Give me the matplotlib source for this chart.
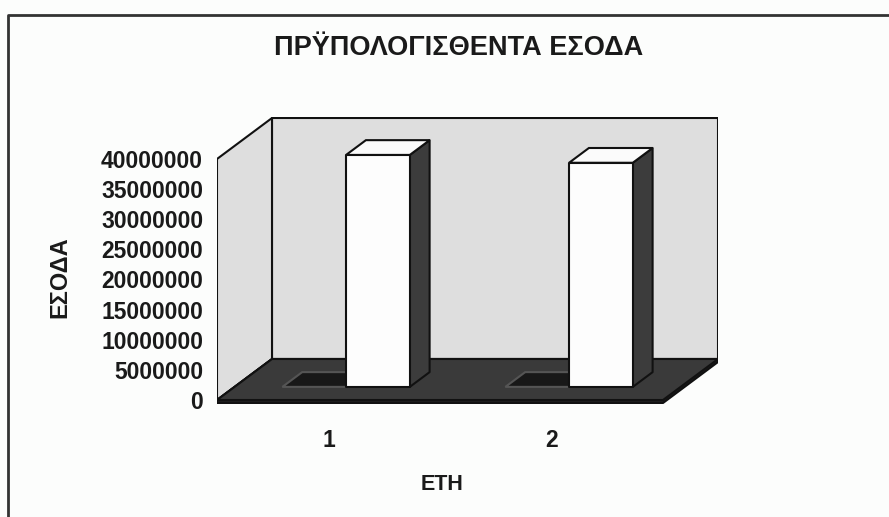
import matplotlib
matplotlib.use("Agg")
import matplotlib.pyplot as plt
from matplotlib.patches import Polygon
from matplotlib.lines import Line2D

# ---- data ----
categories = ["1", "2"]
series_small = [0, 0]                    # flat series drawn on the floor
series_income = [38500000, 37200000]     # white columns
y_ticks = [0, 5000000, 10000000, 15000000, 20000000,
           25000000, 30000000, 35000000, 40000000]
y_max = 40000000
title = "ΠΡΫΠΟΛΟΓΙΣΘΕΝΤΑ ΕΣΟΔΑ"
y_label = "ΕΣΟΔΑ"
x_label = "ΕΤΗ"

FONT = ["Liberation Sans", "DejaVu Sans"]
plt.rcParams["font.family"] = FONT

W, H = 889, 517
fig = plt.figure(figsize=(W / 100, H / 100), dpi=100)
fig.patch.set_facecolor("#fcfdfc")

# layout in pixels
front_left, front_right = 217, 663
zero_px = 400
top_front_px = 159
depth_dx_px, depth_dy_px = 55, 41
ax_left, ax_right = front_left, front_right + depth_dx_px
ax_top, ax_bottom = 117, 404

ncat = len(categories)
cat_px = (front_right - front_left) / ncat
S = (zero_px - top_front_px) / y_max          # px per value unit
DX = depth_dx_px / cat_px                     # depth offset in category units
DY = depth_dy_px / S                          # depth offset in value units

ax = fig.add_axes([ax_left / W, 1 - ax_bottom / H,
                   (ax_right - ax_left) / W, (ax_bottom - ax_top) / H])
ax.set_xlim(0, ncat + (ax_right - front_right) / cat_px)
ax.set_ylim(-(ax_bottom - zero_px) / S, (zero_px - ax_top) / S)
for s in ax.spines.values():
    s.set_visible(False)
ax.set_facecolor("none")

wall = "#dedede"
floor = "#3a3a3a"
ec = "#111111"
lw = 1.5

def poly(pts, fc, z, lw_=lw):
    ax.add_patch(Polygon(pts, closed=True, facecolor=fc, edgecolor=ec,
                         linewidth=lw_, zorder=z, joinstyle="round"))

# back wall, left wall, floor
poly([(DX, DY), (ncat + DX, DY), (ncat + DX, y_max + DY), (DX, y_max + DY)], wall, 1)
poly([(0, 0), (DX, DY), (DX, y_max + DY), (0, y_max)], wall, 1)
floor_th = 3 / S
poly([(0, -floor_th), (ncat, -floor_th), (ncat + DX, DY - floor_th),
      (ncat + DX, DY), (DX, DY), (0, 0)], "#1e1e1e", 2)
poly([(0, 0), (ncat, 0), (ncat + DX, DY), (DX, DY)], floor, 2)

# bars
gap = 1.5
bw = 1 / (2 + gap)
d0, d1 = 0.32, 0.68

def bar3d(x0, v, front, top, side, z, edge=ec):
    ox0, oy0 = d0 * DX, d0 * DY
    ox1, oy1 = d1 * DX, d1 * DY
    x1 = x0 + bw
    if v > 0:
        poly([(x1 + ox0, oy0), (x1 + ox1, oy1), (x1 + ox1, v + oy1), (x1 + ox0, v + oy0)], side, z)
        poly([(x0 + ox0, oy0), (x1 + ox0, oy0), (x1 + ox0, v + oy0), (x0 + ox0, v + oy0)], front, z)
    ax.add_patch(Polygon([(x0 + ox0, v + oy0), (x1 + ox0, v + oy0), (x1 + ox1, v + oy1),
                          (x0 + ox1, v + oy1)], closed=True, facecolor=top,
                         edgecolor=edge, linewidth=lw, zorder=z))

for i in range(ncat):
    start = i + gap * bw / 2
    bar3d(start, series_small[i], "#1a1a1a", "#181818", "#1a1a1a", 3 + i, edge="#555555")
    bar3d(start + bw, series_income[i], "#fdfdfd", "#fbfbfb", "#3c3c3c", 3 + i)

# axes ticks
ax.set_yticks(y_ticks)
ax.set_yticklabels([str(t) for t in y_ticks], fontweight="bold")
ax.set_xticks([i + 0.5 for i in range(ncat)])
ax.set_xticklabels(categories, fontweight="bold")
ax.tick_params(axis="y", length=0, pad=10, labelsize=16.5, labelcolor="#1a1a1a")
ax.tick_params(axis="x", length=0, pad=18, labelsize=16.5, labelcolor="#1a1a1a")

# titles
fig.text(459 / W, 1 - 48 / H, title, ha="center", va="center",
         fontsize=19.5, fontweight="bold", color="#1a1a1a")
fig.text(60 / W, 1 - 277 / H, y_label, ha="center", va="center", rotation=90,
         fontsize=17, fontweight="bold", color="#1a1a1a")
fig.text(442 / W, 1 - 484 / H, x_label, ha="center", va="center",
         fontsize=15.5, fontweight="bold", color="#1a1a1a")

# outer frame (left + top)
fig.add_artist(Line2D([8 / W, 8 / W, 1.0], [0.0, 1 - 15 / H, 1 - 15 / H],
                      transform=fig.transFigure, color="#333333", linewidth=2))

fig.savefig("out.png", dpi=100, facecolor=fig.get_facecolor())
